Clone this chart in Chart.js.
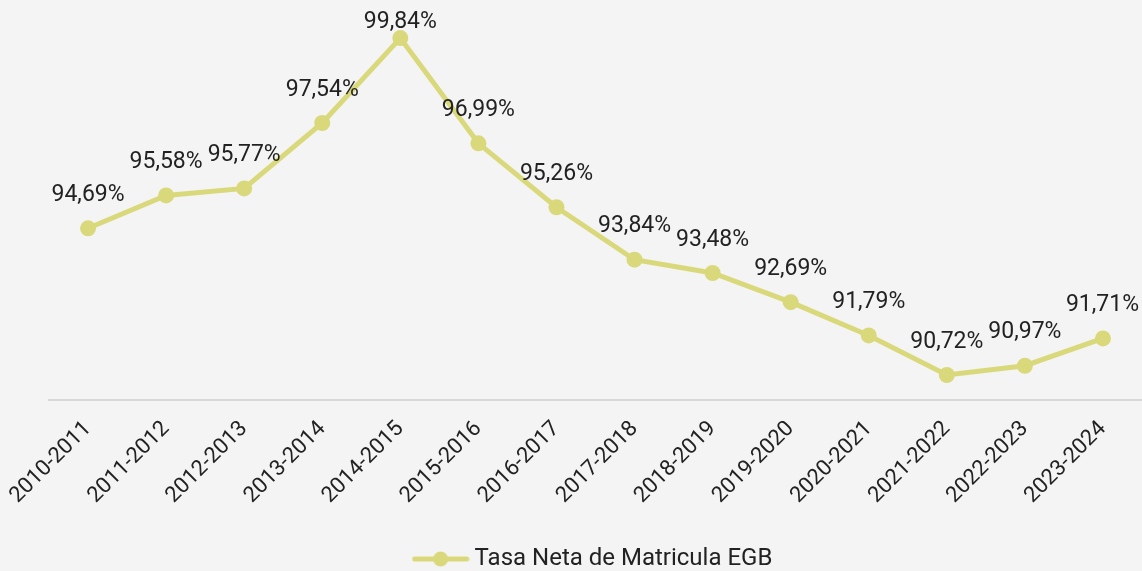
<!DOCTYPE html>
<html>
<head>
<meta charset="utf-8">
<script src="https://cdn.jsdelivr.net/npm/chart.js@4.4.1/dist/chart.umd.min.js"></script>
<style>
html,body{margin:0;padding:0;background:#f4f4f4;}
#wrap{width:1142px;height:571px;position:relative;}
</style>
</head>
<body>
<div id="wrap"><canvas id="c"></canvas></div>
<script>
const categories = ["2010-2011","2011-2012","2012-2013","2013-2014","2014-2015","2015-2016","2016-2017","2017-2018","2018-2019","2019-2020","2020-2021","2021-2022","2022-2023","2023-2024"];
const values = [94.69,95.58,95.77,97.54,99.84,96.99,95.26,93.84,93.48,92.69,91.79,90.72,90.97,91.71];
const seriesName = "Tasa Neta de Matricula EGB";

const lineColor = "#d9d97c";
const FONT = "Roboto, 'DejaVu Sans', sans-serif";

// legend icon: line with dot
const icon = document.createElement('canvas');
icon.width = 58; icon.height = 18;
{
  const g = icon.getContext('2d');
  g.strokeStyle = lineColor; g.lineWidth = 5; g.lineCap = 'round';
  g.beginPath(); g.moveTo(3, 9); g.lineTo(55, 9); g.stroke();
  g.fillStyle = lineColor;
  g.beginPath(); g.arc(29, 9, 7.5, 0, Math.PI * 2); g.fill();
}

const fmt = v => v.toFixed(2).replace('.', ',') + '%';

const labelPlugin = {
  id: 'valLabels',
  afterDatasetsDraw(chart) {
    const ctx = chart.ctx;
    const meta = chart.getDatasetMeta(0);
    ctx.save();
    ctx.font = "23px " + FONT;
    ctx.fillStyle = "#222222";
    ctx.textAlign = 'center';
    ctx.textBaseline = 'middle';
    meta.data.forEach((pt, i) => {
      const t = fmt(values[i]);
      const w = ctx.measureText(t).width;
      let x = pt.x;
      if (x + w / 2 > chart.width - 3) x = chart.width - 3 - w / 2;
      let y = Math.max(pt.y - 33, 22);
      ctx.fillText(t, x, y);
    });
    ctx.restore();
  }
};

const bgPlugin = {
  id: 'bg',
  beforeDraw(chart) {
    const ctx = chart.ctx;
    ctx.save();
    ctx.fillStyle = '#f4f4f4';
    ctx.fillRect(0, 0, chart.width, chart.height);
    ctx.restore();
  },
  afterLayout(chart) {
    if (chart.legend) { chart.legend.top += 10; chart.legend.bottom += 10; }
  }
};

new Chart(document.getElementById('c'), {
  type: 'line',
  data: {
    labels: categories,
    datasets: [{
      label: seriesName,
      data: values,
      borderColor: lineColor,
      backgroundColor: lineColor,
      borderWidth: 5,
      pointStyle: 'circle',
      pointRadius: 8,
      pointHoverRadius: 8,
      pointBackgroundColor: lineColor,
      pointBorderWidth: 0,
      tension: 0,
      clip: false
    }]
  },
  options: {
    responsive: true,
    maintainAspectRatio: false,
    animation: false,
    layout: { autoPadding: false, padding: { left: 49, right: 0, top: 0, bottom: 0 } },
    scales: {
      x: {
        offset: true,
        grid: { display: false, drawTicks: false },
        border: { display: true, color: '#d9d9d9', width: 2 },
        ticks: {
          color: '#222222',
          font: { family: FONT, size: 22 },
          maxRotation: 45, minRotation: 45,
          padding: 16
        },
        afterFit(scale) {
          scale.height += 8;
          scale.paddingLeft = 0;
          scale.paddingRight = 0;
        }
      },
      y: {
        display: false,
        min: 90.04,
        max: 100.87
      }
    },
    plugins: {
      legend: {
        position: 'bottom',
        labels: {
          usePointStyle: true,
          pointStyleWidth: 44,
          boxHeight: 18,
          color: '#222222',
          font: { family: FONT, size: 24 },
          padding: 4,
          generateLabels(chart) {
            return [{ text: seriesName, pointStyle: icon, fillStyle: lineColor, strokeStyle: lineColor, lineWidth: 0, fontColor: '#222222', datasetIndex: 0, hidden: false }];
          }
        }
      },
      tooltip: { enabled: false }
    }
  },
  plugins: [bgPlugin, labelPlugin]
});
</script>
</body>
</html>
